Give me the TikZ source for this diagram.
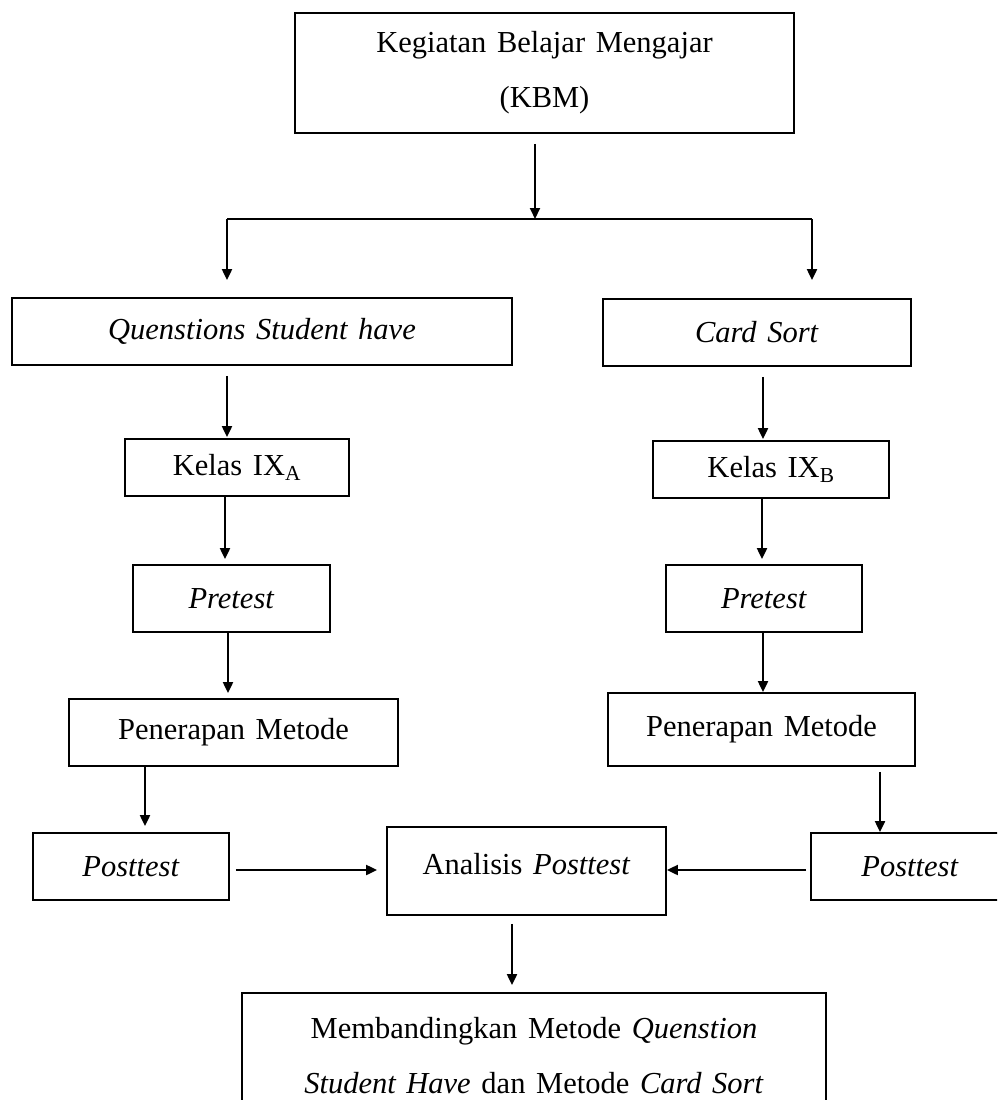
\documentclass[tikz,border=0pt]{standalone}
\usepackage{fontspec}
\setmainfont[WordSpace={1.4,1,1}]{Liberation Serif}
\usetikzlibrary{arrows.meta}
\begin{document}
\begin{tikzpicture}[x=1pt,y=-1pt,
  box/.style={draw,line width=1.8pt,inner sep=0pt,align=center,font=\fontsize{30.5}{55}\selectfont},
  arr/.style={line width=2pt,-{Triangle[length=11pt,width=10pt]}},
  ln/.style={line width=2pt}]
\clip (0,0) rectangle (997,1100);
% boxes
\node[box,minimum width=499pt,minimum height=120pt] (kbm) at (544.5,73) {Kegiatan Belajar Mengajar\\(KBM)};
\node[box,minimum width=500pt,minimum height=67pt] (qsh) at (262,331.5) {\textit{Quenstions Student have}};
\node[box,minimum width=308pt,minimum height=67pt] (cs) at (757,332.5) {\textit{Card Sort}};
\node[box,minimum width=224pt,minimum height=57pt] (ka) at (237,467.5) {Kelas IX\textsubscript{A}};
\node[box,minimum width=236pt,minimum height=57pt] (kb) at (771,469.5) {Kelas IX\textsubscript{B}};
\node[box,minimum width=197pt,minimum height=67pt] (pa) at (231.5,598.5) {\textit{Pretest}};
\node[box,minimum width=196pt,minimum height=67pt] (pb) at (764,598.5) {\textit{Pretest}};
\node[box,minimum width=329pt,minimum height=67pt] (ma) at (233.5,732.5) {Penerapan Metode};
\node[box,minimum width=307pt,minimum height=73pt] (mb) at (761.5,729.5) {Penerapan Metode};
\node[box,minimum width=196pt,minimum height=67pt] (ta) at (131,866.5) {\textit{Posttest}};
\node[box,minimum width=198pt,minimum height=67pt] (tb) at (910,866.5) {\textit{Posttest}};
\node[box,minimum width=279pt,minimum height=88pt] (an) at (526.5,871) {\raisebox{14pt}{Analisis \textit{Posttest}}};
\node[box,minimum width=584pt,minimum height=125pt] (bot) at (534,1055.5) {Membandingkan Metode \textit{Quenstion}\\\textit{Student Have} dan Metode \textit{Card Sort}};
% columns / junctions
\coordinate (sL) at (227,219);
\coordinate (sR) at (812,219);
\coordinate (sM) at (535,219);
\coordinate (xA1) at (227,0);
\coordinate (xA2) at (225,0);
\coordinate (xA3) at (228,0);
\coordinate (xA4) at (145,0);
\coordinate (xB1) at (763,0);
\coordinate (xB2) at (762,0);
\coordinate (xB3) at (763,0);
\coordinate (xB4) at (880,0);
\coordinate (xC) at (512,0);
\coordinate (rowY) at (0,870);
% connectors
\draw[ln] (sL) -- (sR);
\draw[arr,shorten <=10pt] (kbm.south -| sM) -- (sM);
\draw[arr,shorten >=17pt] (sL) -- (sL |- qsh.north);
\draw[arr,shorten >=18pt] (sR) -- (sR |- cs.north);
\draw[arr,shorten <=10pt,shorten >=1pt] (qsh.south -| xA1) -- (ka.north -| xA1);
\draw[arr,shorten <=10pt,shorten >=1pt] (cs.south -| xB1) -- (kb.north -| xB1);
\draw[arr,shorten >=5pt] (ka.south -| xA2) -- (pa.north -| xA2);
\draw[arr,shorten >=5pt] (kb.south -| xB2) -- (pb.north -| xB2);
\draw[arr,shorten >=5pt] (pa.south -| xA3) -- (ma.north -| xA3);
\draw[arr] (pb.south -| xB3) -- (mb.north -| xB3);
\draw[arr,shorten >=6pt] (ma.south -| xA4) -- (ta.north -| xA4);
\draw[arr,shorten <=5pt] (mb.south -| xB4) -- (tb.north -| xB4);
\draw[arr,shorten <=6pt,shorten >=9pt] (ta.east |- rowY) -- (an.west |- rowY);
\draw[arr,shorten <=4pt] (tb.west |- rowY) -- (an.east |- rowY);
\draw[arr,shorten <=8pt,shorten >=7pt] (an.south -| xC) -- (bot.north -| xC);
\end{tikzpicture}
\end{document}
